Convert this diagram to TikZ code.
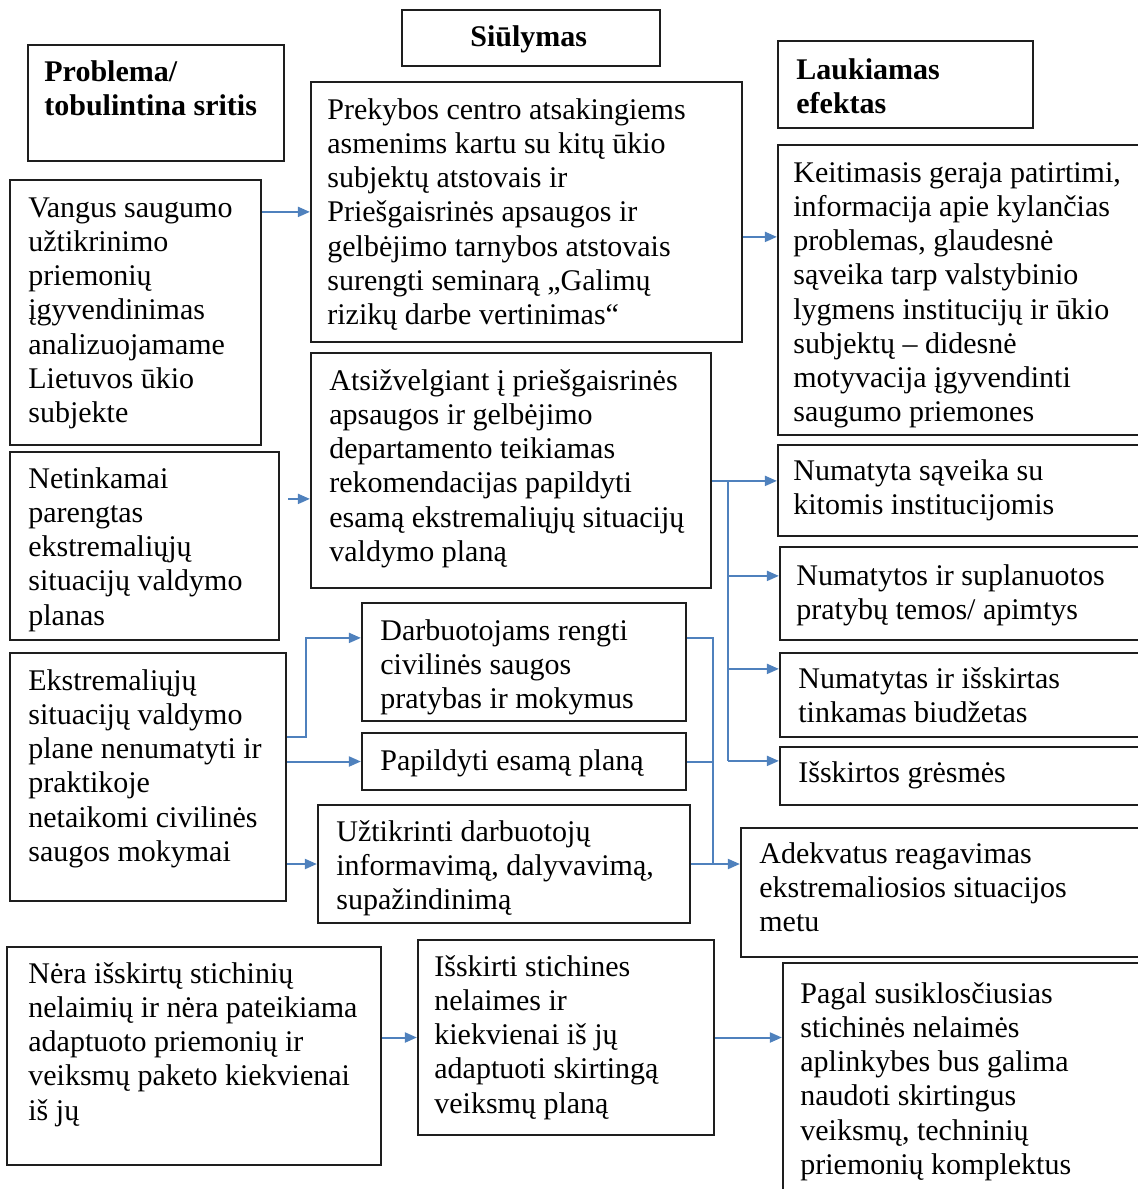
\documentclass[tikz,border=0pt]{standalone}
\usepackage{fontspec}
\setmainfont{Liberation Serif}
\usetikzlibrary{calc,fit,arrows.meta}
\definecolor{arrblue}{RGB}{79,129,189}
\definecolor{boxdark}{RGB}{30,30,30}
\tikzset{
  blkline/.style={draw=boxdark,line width=1.1pt,inner sep=0pt},
  txtfont/.style={font=\fontsize{15}{17.1}\selectfont,align=left,inner sep=0pt,anchor=north west},
  headfont/.style={txtfont,font=\bfseries\fontsize{15}{17.1}\selectfont},
  arr/.style={draw=arrblue,line width=1pt,-{Triangle[length=6pt,width=5pt]}},
  flow/.style={draw=arrblue,line width=1pt},
}
\newcommand{\blk}[5]{\node[blkline,fit={(#2,#3) (#4,#5)}] (#1) {};}
\newcommand{\btxt}[4]{\node[txtfont] (#1) at (#2,{#3-24}) {\strut #4};}
\newcommand{\bhead}[4]{\node[headfont] (#1) at (#2,{#3-24}) {\strut #4};}

\begin{document}
\begin{tikzpicture}[x=0.5pt,y=-0.5pt]
        \useasboundingbox (0,0) rectangle (1137,1189);
        \blk{h1}{28}{45}{284}{161}\bhead{h1t}{44}{81}{Problema/\\tobulintina sritis}
        \blk{h2}{402}{10}{660}{66}\bhead{h2t}{470}{46}{Siūlymas}
        \blk{h3}{778}{41}{1033}{128}\bhead{h3t}{796}{79}{Laukiamas\\efektas}
        \blk{p1}{10}{180}{261}{445}
        \btxt{p1t}{28}{217}{Vangus saugumo\\užtikrinimo\\priemonių\\įgyvendinimas\\analizuojamame\\Lietuvos ūkio\\subjekte}
        \blk{s1}{311}{82}{742}{342}
        \btxt{s1t}{327}{119}{Prekybos centro atsakingiems\\asmenims kartu su kitų ūkio\\subjektų atstovais ir\\Priešgaisrinės apsaugos ir\\gelbėjimo tarnybos atstovais\\surengti seminarą „Galimų\\rizikų darbe vertinimas“}
        \blk{e1}{778}{145}{1141}{435}
        \btxt{e1t}{793}{182}{Keitimasis geraja patirtimi,\\informacija apie kylančias\\problemas, glaudesnė\\sąveika tarp valstybinio\\lygmens institucijų ir ūkio\\subjektų – didesnė\\motyvacija įgyvendinti\\saugumo priemones}
        \blk{p2}{10}{452}{279}{640}
        \btxt{p2t}{28}{488}{Netinkamai\\parengtas\\ekstremaliųjų\\situacijų valdymo\\planas}
        \blk{s2}{311}{353}{711}{588}
        \btxt{s2t}{329}{390}{Atsižvelgiant į priešgaisrinės\\apsaugos ir gelbėjimo\\departamento teikiamas\\rekomendacijas papildyti\\esamą ekstremaliųjų situacijų\\valdymo planą}
        \blk{e2}{778}{445}{1141}{536}
        \btxt{e2t}{793}{480}{Numatyta sąveika su\\kitomis institucijomis}
        \blk{e3}{780}{547}{1141}{640}
        \btxt{e3t}{796}{585}{Numatytos ir suplanuotos\\pratybų temos/ apimtys}
        \blk{e4}{780}{653}{1141}{737}
        \btxt{e4t}{798}{688}{Numatytas ir išskirtas\\tinkamas biudžetas}
        \blk{e5}{780}{747}{1141}{805}
        \btxt{e5t}{798}{782}{Išskirtos grėsmės}
        \blk{p3}{10}{653}{286}{901}
        \btxt{p3t}{28}{690}{Ekstremaliųjų\\situacijų valdymo\\plane nenumatyti ir\\praktikoje\\netaikomi civilinės\\saugos mokymai}
        \blk{s3}{362}{603}{686}{721}
        \btxt{s3t}{380}{640}{Darbuotojams rengti\\civilinės saugos\\pratybas ir mokymus}
        \blk{s4}{362}{733}{686}{790}
        \btxt{s4t}{380}{770}{Papildyti esamą planą}
        \blk{s5}{318}{805}{690}{923}
        \btxt{s5t}{336}{841}{Užtikrinti darbuotojų\\informavimą, dalyvavimą,\\supažindinimą}
        \blk{e6}{741}{828}{1141}{957}
        \btxt{e6t}{759}{863}{Adekvatus reagavimas\\ekstremaliosios situacijos\\metu}
        \blk{p4}{7}{947}{381}{1165}
        \btxt{p4t}{28}{983}{Nėra išskirtų stichinių\\nelaimių ir nėra pateikiama\\adaptuoto priemonių ir\\veiksmų paketo kiekvienai\\iš jų}
        \blk{s6}{418}{940}{714}{1135}
        \btxt{s6t}{434}{976}{Išskirti stichines\\nelaimes ir\\kiekvienai iš jų\\adaptuoti skirtingą\\veiksmų planą}
        \blk{e7}{783}{963}{1141}{1195}
        \btxt{e7t}{800}{1003}{Pagal susiklosčiusias\\stichinės nelaimės\\aplinkybes bus galima\\naudoti skirtingus\\veiksmų, techninių\\priemonių komplektus}
        \draw[arr] ($(p1.north east)+(0,33)$) coordinate (a1) -- (a1 -| s1.west);
        \draw[arr] ($(s1.north east)+(0,156)$) coordinate (a2) -- (a2 -| e1.west);
        \draw[arr,shorten <=4pt] ($(p2.north east)+(0,48)$) coordinate (a3) -- (a3 -| s2.west);
        \draw[arr] ($(s2.north east)+(0,129)$) coordinate (f0) -- (f0 -| e2.west);
        \coordinate (fk) at ($(f0)+(16,0)$);
        \coordinate (b3) at ($(e3.north west)+(0,30)$);
        \coordinate (b4) at ($(e4.north west)+(0,17)$);
        \coordinate (b5) at ($(e5.north west)+(0,15)$);
        \draw[flow] (fk) -- (fk |- b5);
        \foreach \b in {b3,b4,b5} \draw[arr] (fk |- \b) -- (\b);
        \coordinate (q3) at ($(s3.north west)+(0,36)$);
        \draw[arr] ($(p3.north east)+(0,85)$) -| ($(q3)+(-55,0)$) -- (q3);
        \draw[arr] (p3.east |- s4.west) -- (s4.west);
        \draw[arr] (p3.east |- s5.west) -- (s5.west);
        \coordinate (j6) at ($(s5.east)+(22,0)$);
        \draw[flow] (s3.east |- q3) -| (j6);
        \draw[flow] (s4.east) -- (s4.east -| j6);
        \draw[arr] (s5.east) -- (j6) -- (j6 -| e6.west);
        \draw[arr] (p4.east |- s6.west) -- (s6.west);
        \draw[arr] (s6.east) -- (s6.east -| e7.west);
      \end{tikzpicture}
\end{document}
